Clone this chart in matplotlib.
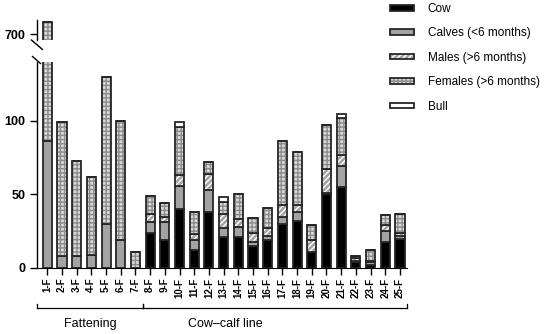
import numpy as np
import matplotlib
matplotlib.use("Agg")
import matplotlib.pyplot as plt
from matplotlib.patches import Patch
from matplotlib.lines import Line2D
from matplotlib.legend_handler import HandlerTuple

plt.rcParams['font.family'] = ['Liberation Sans', 'DejaVu Sans']
plt.rcParams['hatch.linewidth'] = 1.0

farms = ['1-F', '2-F', '3-F', '4-F', '5-F', '6-F', '7-F', '8-F', '9-F', '10-F',
         '11-F', '12-F', '13-F', '14-F', '15-F', '16-F', '17-F', '18-F', '19-F',
         '20-F', '21-F', '22-F', '23-F', '24-F', '25-F']
cow = [0, 0, 0, 0, 0, 0, 0, 24, 19, 40, 12, 38, 21, 21, 15, 19, 30, 32, 11, 50, 55, 4, 2, 18, 20]
calves = [86, 8, 8, 9, 30, 19, 0, 7, 12, 16, 7, 15, 6, 7, 3, 3, 5, 6, 0, 1, 14, 1, 2, 7, 2]
males = [0, 0, 0, 0, 0, 0, 0, 6, 4, 7, 4, 11, 10, 5, 6, 5, 8, 5, 8, 16, 8, 2, 1, 4, 2]
females = [622, 91, 65, 53, 100, 81, 11, 12, 9, 33, 15, 8, 8, 17, 10, 14, 43, 36, 10, 30, 25, 1, 7, 7, 13]
bull = [0, 0, 0, 0, 0, 0, 0, 0, 0, 3, 0, 0, 3, 0, 0, 0, 0, 0, 0, 0, 3, 0, 0, 0, 0]
groups = ['Fattening', 'Cow\u2013calf line']

W, H = 550, 334
fig = plt.figure(figsize=(5.5, 3.34), dpi=100)
axl = fig.add_axes([37 / W, (H - 268) / H, 370 / W, 206 / H])
axu = fig.add_axes([37 / W, (H - 40) / H, 370 / W, 20 / H])

x = np.arange(len(farms))
bw = 0.62
ec = '#262626'
# face colour, hatch, hatch colour for each layer
styles = [('black', '', 'black'),
          ('#a3a3a3', '', '#a3a3a3'),
          ('#a3a3a3', '//////', 'white'),
          ('#d9d9d9', '++++', '#8c8c8c'),
          ('white', '', 'white')]
layers = [cow, calves, males, females, bull]

for ax in (axl, axu):
    bottom = np.zeros(len(farms))
    for vals, (fc, hatch, hc) in zip(layers, styles):
        vals = np.array(vals, dtype=float)
        ax.bar(x, vals, bw, bottom=bottom, color=fc, hatch=hatch,
               edgecolor=hc, linewidth=0)
        ax.bar(x, vals, bw, bottom=bottom, fill=False, edgecolor=ec, linewidth=1.3)
        bottom += vals
    ax.set_xlim(-0.7, 24.48)
    for s in ('top', 'right'):
        ax.spines[s].set_visible(False)
    ax.spines['left'].set_linewidth(1.0)
    ax.tick_params(axis='y', length=5, width=1, labelsize=9)

axl.set_ylim(0, 140)
axl.set_yticks([0, 50, 100])
axl.set_xticks(x)
axl.set_xticklabels(farms, rotation=90, fontsize=7, fontweight='bold')
axl.tick_params(axis='x', length=5, width=1, pad=2)
for lab in axl.get_yticklabels():
    lab.set_fontweight('bold')

axu.set_ylim(696, 709.7)
axu.set_yticks([700])
for lab in axu.get_yticklabels():
    lab.set_fontweight('bold')
axu.spines['bottom'].set_visible(False)
axu.set_xticks([])

# break marks
def px(xp, yp):
    return (xp / W, 1 - yp / H)
for (x0, y0), (x1, y1) in [((31.5, 40), (42.5, 49.5)), ((32.5, 56.5), (40.5, 63.5))]:
    a, b = px(x0, y0)
    c, d = px(x1, y1)
    fig.add_artist(Line2D([a, c], [b, d], color='black', lw=1))

# group brackets below the axis
tr = axl.get_xaxis_transform()
yb, yt = -0.196, -0.175
for x0, x1 in [(-0.7, 6.5), (6.5, 24.48)]:
    axl.plot([x0, x1], [yb, yb], color='black', lw=0.9, transform=tr, clip_on=False)
    axl.plot([x0, x0], [yb, yt], color='black', lw=0.9, transform=tr, clip_on=False)
    axl.plot([x1, x1], [yb, yt], color='black', lw=0.9, transform=tr, clip_on=False)
axl.text(2.9, -0.273, groups[0], transform=tr, ha='center', va='center', fontsize=9)
axl.text(12.1, -0.273, groups[1], transform=tr, ha='center', va='center', fontsize=9)

# legend
names = ['Cow', 'Calves (<6 months)', 'Males (>6 months)', 'Females (>6 months)', 'Bull']
handles = []
for fc, hatch, hc in styles:
    handles.append((Patch(facecolor=fc, hatch=hatch, edgecolor=hc, linewidth=0),
                    Patch(fill=False, edgecolor=ec, linewidth=1.3)))
fig.legend(handles, names, handler_map={tuple: HandlerTuple(ndivide=1, pad=0)},
           loc='upper left', bbox_to_anchor=(390 / W, 1 - 3 / H), frameon=False,
           fontsize=8.5, handlelength=2.0, handleheight=0.35, handletextpad=1.2,
           labelspacing=1.05, borderpad=0, borderaxespad=0)

fig.savefig('out.png', dpi=100)
